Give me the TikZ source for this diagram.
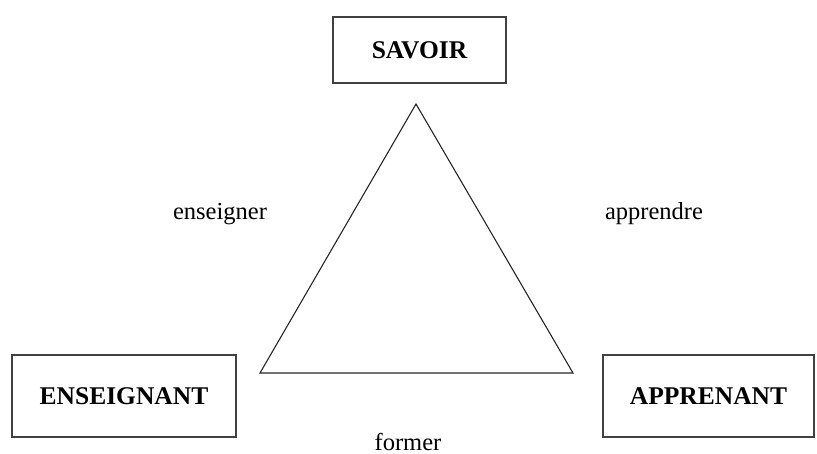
\documentclass[tikz,border=0pt]{standalone}
\usepackage{fontspec}
\setmainfont{Liberation Serif}
\begin{document}
\begin{tikzpicture}[x=1pt,y=-1pt,
  boxnode/.style={draw=black!75,line width=1.4pt,inner sep=0pt,font=\fontsize{25.5}{28}\selectfont\bfseries},
  lbl/.style={inner sep=0pt,anchor=base,font=\fontsize{24.5}{28}\selectfont},
  tri/.style={draw=black!85,line width=1.1pt,line join=miter}]
\useasboundingbox (0,0) rectangle (817,454);
\node[boxnode,minimum width=173pt,minimum height=66pt] (savoir) at (419.5,50) {SAVOIR};
\node[boxnode,minimum width=224pt,minimum height=82pt] (ens) at (124,396) {ENSEIGNANT};
\node[boxnode,minimum width=211pt,minimum height=82pt] (app) at (708.5,396) {APPRENANT};
\coordinate (top) at (416,104);
\coordinate (bl) at (260,373);
\coordinate (br) at (573,373);
\draw[tri] (top) -- (bl) -- (br) -- cycle;
\node[lbl] (enseigner) at (220,220) {enseigner};
\node[lbl] (apprendre) at (654,220) {apprendre};
\node[lbl] (former) at (408,450) {former};
\end{tikzpicture}
\end{document}
